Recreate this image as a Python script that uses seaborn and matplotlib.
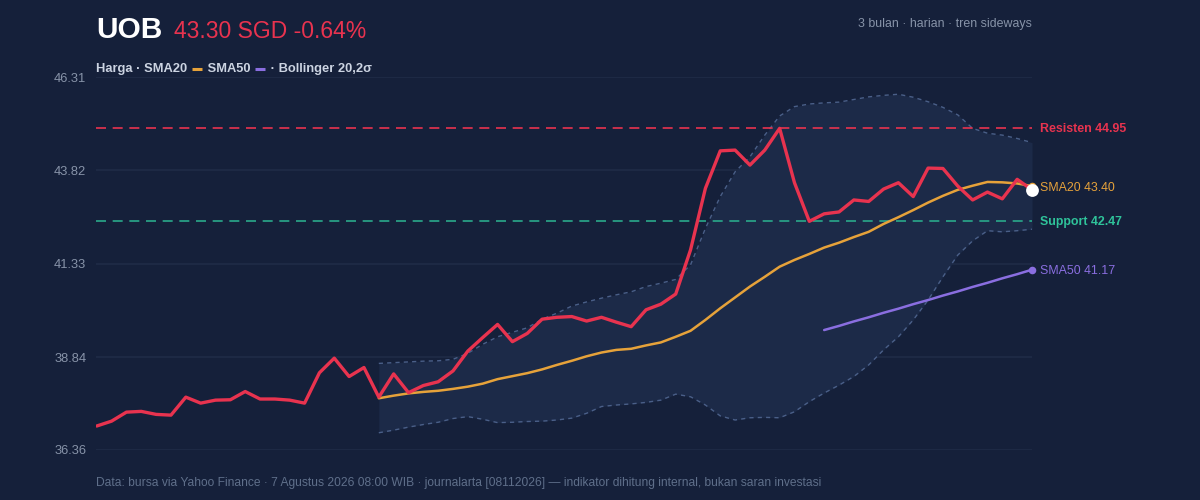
import numpy as np
import pandas as pd
import matplotlib
matplotlib.use("Agg")
import matplotlib.pyplot as plt
from matplotlib.lines import Line2D
import seaborn as sns

# ---------------- data ----------------
price = [37.00, 37.13, 37.37, 37.39, 37.31, 37.29, 37.77, 37.61, 37.69, 37.70,
         37.92, 37.72, 37.72, 37.69, 37.61, 38.42, 38.81, 38.32, 38.56, 37.77,
         38.39, 37.89, 38.08, 38.18, 38.47, 39.00, 39.36, 39.71, 39.25, 39.47,
         39.85, 39.90, 39.92, 39.80, 39.90, 39.77, 39.65, 40.10, 40.25, 40.52,
         41.70, 43.34, 44.34, 44.36, 43.96, 44.36, 44.94, 43.49, 42.46, 42.66,
         42.71, 43.03, 42.99, 43.32, 43.49, 43.12, 43.88, 43.87, 43.40, 43.03,
         43.24, 43.06, 43.58, 43.30]
sma20 = [37.74, 37.81, 37.87, 37.91, 37.94, 37.99, 38.05, 38.13, 38.25, 38.33,
         38.41, 38.51, 38.63, 38.74, 38.86, 38.96, 39.03, 39.06, 39.15, 39.23,
         39.38, 39.54, 39.83, 40.14, 40.43, 40.72, 40.98, 41.25, 41.43, 41.59,
         41.76, 41.89, 42.04, 42.18, 42.39, 42.57, 42.76, 42.96, 43.14, 43.30,
         43.41, 43.51, 43.50, 43.47, 43.40]
sma50 = [39.56, 39.67, 39.79, 39.90, 40.02, 40.13, 40.25, 40.36, 40.48, 40.59,
         40.71, 40.82, 40.94, 41.05, 41.17]
bb_upper = [38.67, 38.69, 38.71, 38.73, 38.74, 38.78, 38.94, 39.18, 39.38, 39.50,
            39.62, 39.85, 40.01, 40.20, 40.31, 40.41, 40.50, 40.58, 40.72, 40.81,
            40.91, 41.30, 42.27, 43.12, 43.78, 44.18, 44.76, 45.27, 45.52, 45.59,
            45.62, 45.64, 45.71, 45.78, 45.82, 45.85, 45.77, 45.65, 45.50, 45.30,
            44.94, 44.81, 44.76, 44.67, 44.56]
bb_lower = [36.82, 36.89, 36.97, 37.04, 37.10, 37.20, 37.25, 37.18, 37.09, 37.10,
            37.12, 37.13, 37.16, 37.21, 37.34, 37.52, 37.56, 37.59, 37.63, 37.69,
            37.85, 37.78, 37.56, 37.27, 37.16, 37.22, 37.23, 37.22, 37.38, 37.65,
            37.88, 38.09, 38.32, 38.63, 39.03, 39.38, 39.83, 40.36, 40.98, 41.56,
            41.94, 42.21, 42.18, 42.21, 42.25]
y_ticks = [36.36, 38.84, 41.33, 43.82, 46.31]
resistance = 44.95
support = 42.47

ticker = "UOB"
price_text = "43.30 SGD -0.64%"
subtitle = "3 bulan · harian · tren sideways"
footer = ("Data: bursa via Yahoo Finance · 7 Agustus 2026 08:00 WIB · journalarta "
          "[08112026] — indikator dihitung internal, bukan saran investasi")

# ---------------- frames ----------------
n = len(price)
df_price = pd.DataFrame({"day": np.arange(n), "value": price})
df_sma20 = pd.DataFrame({"day": np.arange(n - len(sma20), n), "value": sma20})
df_sma50 = pd.DataFrame({"day": np.arange(n - len(sma50), n), "value": sma50})
df_bb = pd.DataFrame({"day": np.arange(n - len(bb_upper), n),
                      "upper": bb_upper, "lower": bb_lower})

# ---------------- style ----------------
BG = "#15203a"
GRID = "#1f2c47"
BAND = "#1c2a48"
BAND_EDGE = "#4a5f88"
RED = "#e8334f"
ORANGE = "#e6a23a"
PURPLE = "#8a6ee0"
GREEN = "#2fc39a"
GREEN_LINE = "#2aa98b"
MUTED = "#8793a8"
FOOT = "#5f6f8a"
LEG = "#ccd4e2"

sns.set_theme(style="dark")
plt.rcParams["font.family"] = ["Liberation Sans", "DejaVu Sans"]

fig = plt.figure(figsize=(12, 5), dpi=100, facecolor=BG)
ax = fig.add_axes([96 / 1200, 1 - 450 / 500, (1032 - 96) / 1200, (450 - 77) / 500])
ax.set_facecolor(BG)

# bollinger band
ax.fill_between(df_bb["day"], df_bb["lower"], df_bb["upper"], color=BAND, lw=0, zorder=1)
sns.lineplot(data=df_bb, x="day", y="upper", ax=ax, color=BAND_EDGE, lw=1.0,
             zorder=2).lines[-1].set_dashes([3, 3])
sns.lineplot(data=df_bb, x="day", y="lower", ax=ax, color=BAND_EDGE, lw=1.0,
             zorder=2).lines[-1].set_dashes([3, 3])

# resistance / support
ax.axhline(resistance, color=RED, lw=1.2, dashes=(6, 4), zorder=2)
ax.axhline(support, color=GREEN_LINE, lw=1.2, dashes=(6, 4), zorder=2)

# moving averages
sns.lineplot(data=df_sma50, x="day", y="value", ax=ax, color=PURPLE, lw=1.8, zorder=3)
sns.lineplot(data=df_sma20, x="day", y="value", ax=ax, color=ORANGE, lw=1.8, zorder=3)
sns.lineplot(data=df_price, x="day", y="value", ax=ax, color=RED, lw=2.4, zorder=4)

# end markers
ax.scatter([df_sma50["day"].iloc[-1]], [sma50[-1]], s=30, color=PURPLE, zorder=5,
           lw=0, clip_on=False)
ax.scatter([df_sma20["day"].iloc[-1]], [sma20[-1]], s=30, color=ORANGE, zorder=5,
           lw=0, clip_on=False)
ax.scatter([df_price["day"].iloc[-1]], [price[-1]], s=85, color="white", zorder=6,
           lw=0, clip_on=False)

# axes
ax.set_xlim(-0.05, n - 1)
ax.set_ylim(y_ticks[0], y_ticks[-1])
ax.set_yticks(y_ticks)
ax.set_yticklabels([f"{v:.2f}" for v in y_ticks])
ax.set_xticks([])
ax.set_xlabel("")
ax.set_ylabel("")
ax.grid(axis="y", color=GRID, lw=1.2)
ax.grid(axis="x", visible=False)
ax.tick_params(axis="y", length=0, pad=7, labelsize=9.3, labelcolor=MUTED)
for s in ax.spines.values():
    s.set_visible(False)

# right-side labels
trans = ax.get_yaxis_transform()
lab_x = 1 + 8 / 936
for val, txt, col, wt in [
        (resistance, f"Resisten {resistance:.2f}", RED, "bold"),
        (sma20[-1], f"SMA20 {sma20[-1]:.2f}", ORANGE, "normal"),
        (support, f"Support {support:.2f}", GREEN, "bold"),
        (sma50[-1], f"SMA50 {sma50[-1]:.2f}", PURPLE, "normal")]:
    ax.text(lab_x, val, txt, transform=trans, color=col, fontsize=8.9,
            fontweight=wt, va="center_baseline", ha="left")

# header
fig.text(96 / 1200, 1 - 37.5 / 500, ticker, color="white", fontsize=21.5,
         fontweight="bold", va="baseline", ha="left")
fig.text(174 / 1200, 1 - 37.5 / 500, price_text, color=RED, fontsize=16.5,
         va="baseline", ha="left")
fig.text(1032 / 1200, 1 - 26.5 / 500, subtitle, color=MUTED, fontsize=8.9,
         va="baseline", ha="right")

# legend row (text pieces with short coloured bars)
base_y = 1 - 72.3 / 500
t = fig.text(96 / 1200, base_y, "Harga · SMA20 ", color=LEG, fontsize=9.3,
             fontweight="bold", va="baseline", ha="left")
pieces = [("\u2002\u2002", ORANGE), (" SMA50 ", LEG), ("\u2002\u2002", PURPLE),
          (" · Bollinger 20,2σ", LEG)]
prev = t
bars = []
for txt, col in pieces:
    prev = ax.annotate(txt, xy=(1, 0), xycoords=prev, xytext=(0, 0),
                       textcoords="offset points", va="bottom", ha="left",
                       color=LEG, fontsize=9.3, fontweight="bold",
                       annotation_clip=False)
    if txt.strip() == "":
        bars.append((prev, col))
fig.canvas.draw()
r = fig.canvas.get_renderer()
H = fig.bbox.height
W = fig.bbox.width
for art, col in bars:
    bb = art.get_window_extent(r)
    xm = (bb.x0 + bb.x1) / 2
    yline = base_y * H + 3.5
    fig.add_artist(Line2D([(xm - 5) / W, (xm + 5) / W], [yline / H, yline / H],
                          color=col, lw=2.2, solid_capstyle="butt",
                          transform=fig.transFigure))

# footer
fig.text(96 / 1200, 1 - 486 / 500, footer, color=FOOT, fontsize=8.65,
         va="baseline", ha="left")

fig.savefig("out.png", dpi=100, facecolor=BG)
